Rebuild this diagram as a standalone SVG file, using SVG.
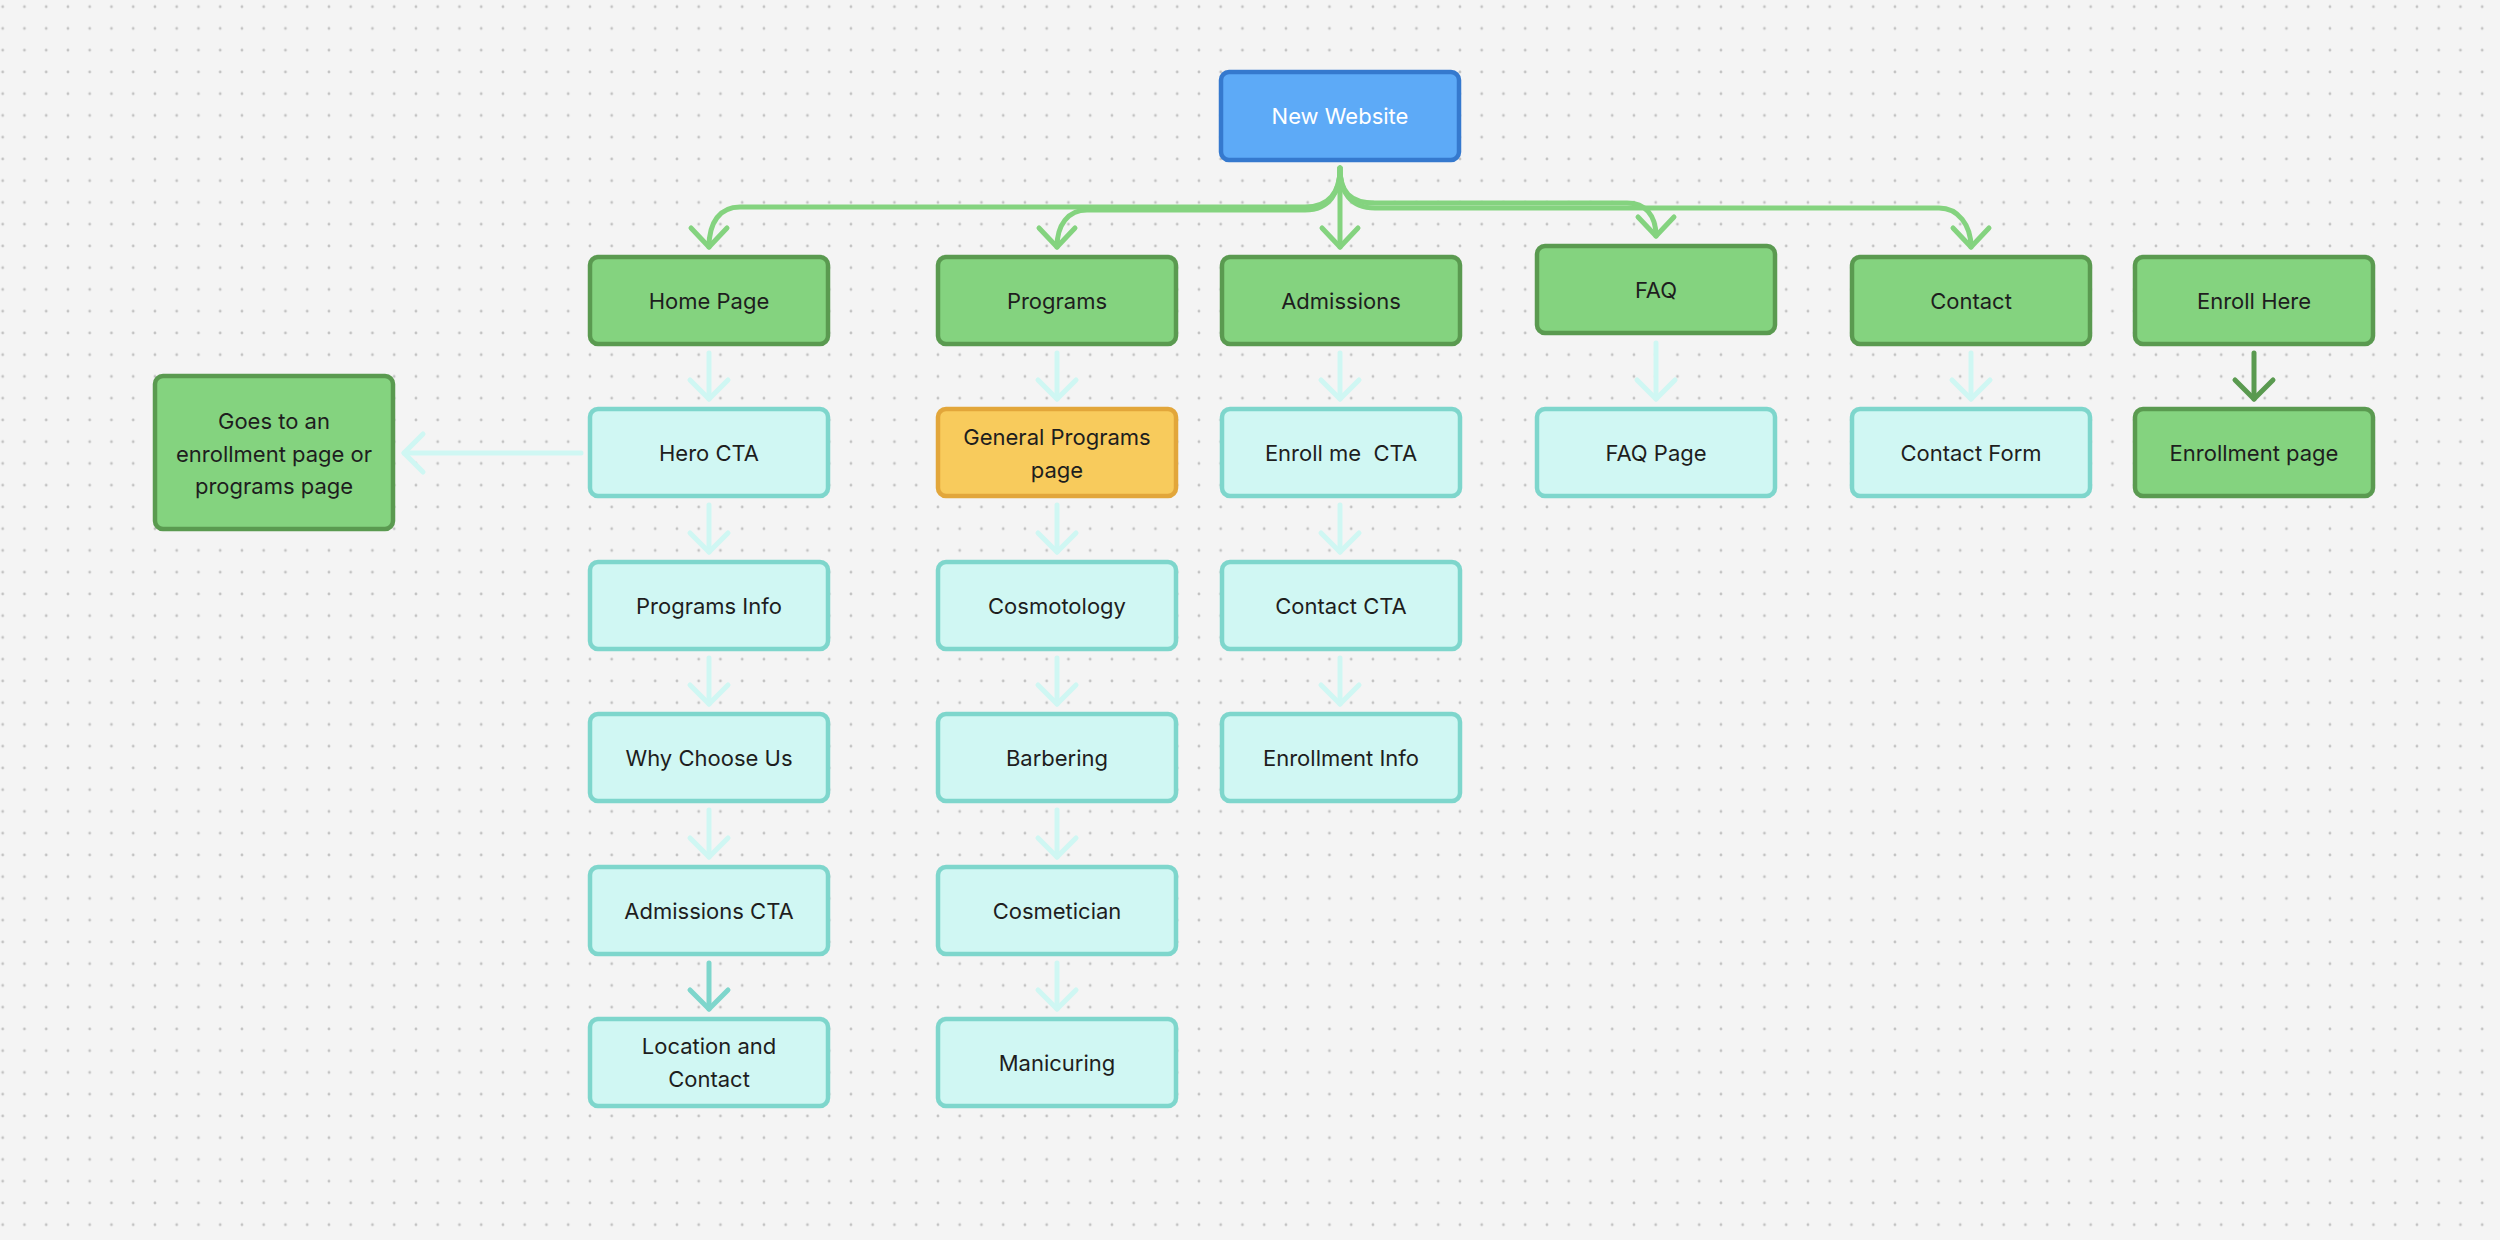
<svg xmlns="http://www.w3.org/2000/svg" width="2500" height="1240" viewBox="0 0 2500 1240">
<style>
.n rect{stroke-width:4.5}
.g rect{fill:#84D37F;stroke:#5A9A50}
.t rect{fill:#D0F7F3;stroke:#7ED6CC}
.y rect{fill:#F8CB5C;stroke:#E2A63A}
.b rect{fill:#5DAAF7;stroke:#3579CE}
text{font-family:Inter,"Liberation Sans",sans-serif;font-size:22px;fill:#1E1E1E;text-anchor:middle}
.b text{fill:#FFFFFF}
.c path{fill:none;stroke-width:5;stroke-linecap:round;stroke-linejoin:round}
.cg{stroke:#84D37F}
.cl{stroke:#CFF7F3}
.ct{stroke:#7ED6CC}
.cd{stroke:#5A9A50}
</style>
<defs>
<pattern id="dots" patternUnits="userSpaceOnUse" x="-8.175" y="-4.175" width="21.75" height="21.75">
<circle cx="10.875" cy="10.875" r="1.4" fill="#C2C2C2"/>
</pattern>
<marker id="mg" markerUnits="userSpaceOnUse" viewBox="-25 -25 50 50" markerWidth="50" markerHeight="50" refX="0" refY="0" orient="auto" overflow="visible"><path d="M-19,-18 L0,0 L-19,18" fill="none" stroke="#84D37F" stroke-width="5" stroke-linecap="round" stroke-linejoin="round"/></marker>
<marker id="ml" markerUnits="userSpaceOnUse" viewBox="-25 -25 50 50" markerWidth="50" markerHeight="50" refX="0" refY="0" orient="auto" overflow="visible"><path d="M-19,-19 L0,0 L-19,19" fill="none" stroke="#CFF7F3" stroke-width="5" stroke-linecap="round" stroke-linejoin="round"/></marker>
<marker id="mt" markerUnits="userSpaceOnUse" viewBox="-25 -25 50 50" markerWidth="50" markerHeight="50" refX="0" refY="0" orient="auto" overflow="visible"><path d="M-19,-19 L0,0 L-19,19" fill="none" stroke="#7ED6CC" stroke-width="5" stroke-linecap="round" stroke-linejoin="round"/></marker>
<marker id="md" markerUnits="userSpaceOnUse" viewBox="-25 -25 50 50" markerWidth="50" markerHeight="50" refX="0" refY="0" orient="auto" overflow="visible"><path d="M-19,-19 L0,0 L-19,19" fill="none" stroke="#5A9A50" stroke-width="5" stroke-linecap="round" stroke-linejoin="round"/></marker>
</defs>
<rect width="2500" height="1240" fill="#F4F4F4"/>
<rect width="2500" height="1240" fill="url(#dots)"/>

<g id="connectors" class="c">
<path class="cg" marker-end="url(#mg)" d="M1340,168 C1340,192 1330,207 1305,207 L740,207 C720,207 709,222 709,247"/>
<path class="cg" marker-end="url(#mg)" d="M1340,168 C1340,192 1330,210 1305,210 L1087,210 C1068,210 1057,225 1057,247"/>
<path class="cg" marker-end="url(#mg)" d="M1340,168 L1340,247"/>
<path class="cg" marker-end="url(#mg)" d="M1340,168 C1340,192 1350,203 1375,203 L1627,203 C1645,203 1656,215 1656,236"/>
<path class="cg" marker-end="url(#mg)" d="M1340,168 C1340,192 1350,208 1375,208 L1939,208 C1958,208 1971,225 1971,247"/>

<path class="cl" marker-end="url(#ml)" d="M709,353 L709,399"/>
<path class="cl" marker-end="url(#ml)" d="M709,505 L709,552"/>
<path class="cl" marker-end="url(#ml)" d="M709,658 L709,704"/>
<path class="cl" marker-end="url(#ml)" d="M709,810 L709,857"/>
<path class="ct" marker-end="url(#mt)" d="M709,963 L709,1009"/>
<path class="cl" marker-end="url(#ml)" d="M581,453 L404,453"/>

<path class="cl" marker-end="url(#ml)" d="M1057,353 L1057,399"/>
<path class="cl" marker-end="url(#ml)" d="M1057,505 L1057,552"/>
<path class="cl" marker-end="url(#ml)" d="M1057,658 L1057,704"/>
<path class="cl" marker-end="url(#ml)" d="M1057,810 L1057,857"/>
<path class="cl" marker-end="url(#ml)" d="M1057,963 L1057,1009"/>

<path class="cl" marker-end="url(#ml)" d="M1340,353 L1340,399"/>
<path class="cl" marker-end="url(#ml)" d="M1340,505 L1340,552"/>
<path class="cl" marker-end="url(#ml)" d="M1340,658 L1340,704"/>

<path class="cl" marker-end="url(#ml)" d="M1656,343 L1656,399"/>
<path class="cl" marker-end="url(#ml)" d="M1971,353 L1971,399"/>
<path class="cd" marker-end="url(#md)" d="M2254,353 L2254,399"/>
</g>

<g id="new-website" class="n b"><rect x="1221" y="72" width="238" height="88" rx="8"/><text x="1340" y="124">New Website</text></g>

<g id="home-page" class="n g"><rect x="590" y="257" width="238" height="87" rx="8"/><text x="709" y="309">Home Page</text></g>
<g id="programs" class="n g"><rect x="938" y="257" width="238" height="87" rx="8"/><text x="1057" y="309">Programs</text></g>
<g id="admissions" class="n g"><rect x="1222" y="257" width="238" height="87" rx="8"/><text x="1341" y="309">Admissions</text></g>
<g id="faq" class="n g"><rect x="1537" y="246" width="238" height="87" rx="8"/><text x="1656" y="298">FAQ</text></g>
<g id="contact" class="n g"><rect x="1852" y="257" width="238" height="87" rx="8"/><text x="1971" y="309">Contact</text></g>
<g id="enroll-here" class="n g"><rect x="2135" y="257" width="238" height="87" rx="8"/><text x="2254" y="309">Enroll Here</text></g>

<g id="goes-to" class="n g"><rect x="155" y="376" width="238" height="153" rx="8"/><text x="274" y="429">Goes to an</text><text x="274" y="462">enrollment page or</text><text x="274" y="494">programs page</text></g>

<g id="hero-cta" class="n t"><rect x="590" y="409" width="238" height="87" rx="8"/><text x="709" y="461">Hero CTA</text></g>
<g id="general-programs" class="n y"><rect x="938" y="409" width="238" height="87" rx="8"/><text x="1057" y="445">General Programs</text><text x="1057" y="478">page</text></g>
<g id="enroll-me-cta" class="n t"><rect x="1222" y="409" width="238" height="87" rx="8"/><text x="1341" y="461" xml:space="preserve">Enroll me  CTA</text></g>
<g id="faq-page" class="n t"><rect x="1537" y="409" width="238" height="87" rx="8"/><text x="1656" y="461">FAQ Page</text></g>
<g id="contact-form" class="n t"><rect x="1852" y="409" width="238" height="87" rx="8"/><text x="1971" y="461">Contact Form</text></g>
<g id="enrollment-page" class="n g"><rect x="2135" y="409" width="238" height="87" rx="8"/><text x="2254" y="461">Enrollment page</text></g>

<g id="programs-info" class="n t"><rect x="590" y="562" width="238" height="87" rx="8"/><text x="709" y="614">Programs Info</text></g>
<g id="cosmotology" class="n t"><rect x="938" y="562" width="238" height="87" rx="8"/><text x="1057" y="614">Cosmotology</text></g>
<g id="contact-cta" class="n t"><rect x="1222" y="562" width="238" height="87" rx="8"/><text x="1341" y="614">Contact CTA</text></g>

<g id="why-choose-us" class="n t"><rect x="590" y="714" width="238" height="87" rx="8"/><text x="709" y="766">Why Choose Us</text></g>
<g id="barbering" class="n t"><rect x="938" y="714" width="238" height="87" rx="8"/><text x="1057" y="766">Barbering</text></g>
<g id="enrollment-info" class="n t"><rect x="1222" y="714" width="238" height="87" rx="8"/><text x="1341" y="766">Enrollment Info</text></g>

<g id="admissions-cta" class="n t"><rect x="590" y="867" width="238" height="87" rx="8"/><text x="709" y="919">Admissions CTA</text></g>
<g id="cosmetician" class="n t"><rect x="938" y="867" width="238" height="87" rx="8"/><text x="1057" y="919">Cosmetician</text></g>

<g id="location-contact" class="n t"><rect x="590" y="1019" width="238" height="87" rx="8"/><text x="709" y="1054">Location and</text><text x="709" y="1087">Contact</text></g>
<g id="manicuring" class="n t"><rect x="938" y="1019" width="238" height="87" rx="8"/><text x="1057" y="1071">Manicuring</text></g>
</svg>
